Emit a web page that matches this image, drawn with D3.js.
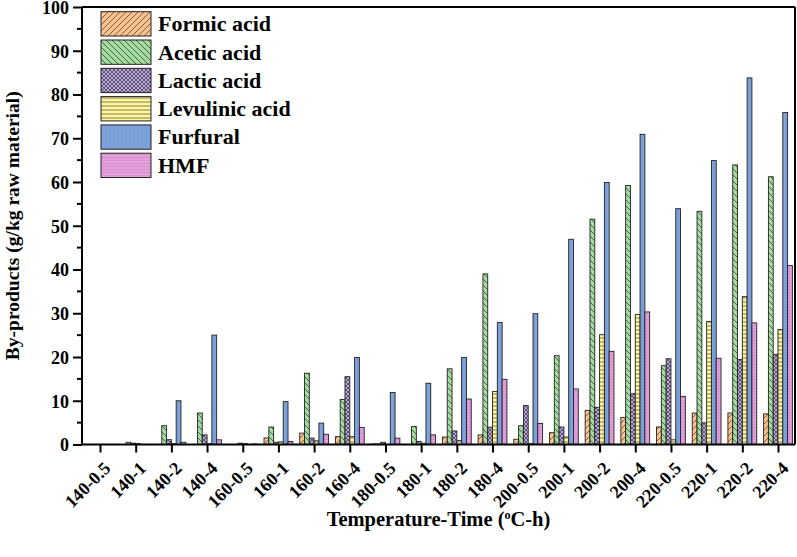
<!DOCTYPE html>
<html><head><meta charset="utf-8">
<script src="https://cdn.jsdelivr.net/npm/d3@7"></script>
<style>
html,body{margin:0;padding:0;background:#fff;}
svg text{font-family:"Liberation Serif","Times New Roman",serif;font-weight:bold;fill:#000;}
</style></head>
<body><svg id="c" width="797" height="557"></svg>
<script>
const categories = ["140-0.5","140-1","140-2","140-4","160-0.5","160-1","160-2","160-4","180-0.5","180-1","180-2","180-4","200-0.5","200-1","200-2","200-4","220-0.5","220-1","220-2","220-4"];
const formic    = [0, 0, 0, 0, 0, 1.5, 2.6, 1.8, 0.1, 0, 1.7, 2.2, 1.2, 2.7, 7.8, 6.2, 4.0, 7.2, 7.2, 7.0];
const acetic    = [0, 0.5, 4.3, 7.2, 0, 4.0, 16.3, 10.3, 0.1, 4.1, 17.3, 39.0, 4.3, 20.3, 51.5, 59.2, 18.0, 53.3, 63.9, 61.2];
const lactic    = [0, 0.3, 1.1, 2.2, 0.3, 0.5, 1.45, 15.5, 0.5, 0.7, 3.1, 3.95, 8.9, 4.0, 8.5, 11.6, 19.6, 4.95, 19.4, 20.6];
const levulinic = [0, 0.2, 0.2, 0.2, 0.2, 0.6, 0.84, 1.8, 0, 0.3, 0.9, 12.1, 0.2, 1.7, 25.1, 29.7, 1.07, 28.1, 33.8, 26.3];
const furfural  = [0, 0, 10, 25, 0, 9.8, 4.9, 19.9, 11.9, 14, 19.9, 27.9, 29.9, 46.9, 59.9, 70.9, 53.9, 64.9, 83.8, 75.9];
const hmf       = [0, 0, 0.5, 1.07, 0.1, 0.7, 2.35, 3.9, 1.45, 2.2, 10.4, 14.9, 4.8, 12.7, 21.3, 30.3, 11.0, 19.7, 27.8, 40.9];
const seriesNames = ["Formic acid","Acetic acid","Lactic acid","Levulinic acid","Furfural","HMF"];
const seriesValues = [formic, acetic, lactic, levulinic, furfural, hmf];
const yTicks = [0,10,20,30,40,50,60,70,80,90,100];

const svg = d3.select("#c");
const L = 82, R = 795, T = 7, B = 444.5;

// patterns
const defs = svg.append("defs");
const pats = [
  {id:"p0", fill:"#F9C18E", draw:g=>{g.append("path").attr("d","M0,6 L6,0 M-1,1 L1,-1 M5,7 L7,5").attr("stroke","#5a4a3a").attr("stroke-width",0.8);}, size:6},
  {id:"p1", fill:"#A5DBA1", draw:g=>{g.append("path").attr("d","M0,0 L6,6 M-1,5 L1,7 M5,-1 L7,1").attr("stroke","#2f4a30").attr("stroke-width",0.8);}, size:6},
  {id:"p2", fill:"#BBA8D6", draw:g=>{g.append("path").attr("d","M0,0 L4,4 M4,0 L0,4").attr("stroke","#3a3050").attr("stroke-width",0.7);}, size:4},
  {id:"p3", fill:"#FFF59B", draw:g=>{g.append("path").attr("d","M0,2 L4,2").attr("stroke","#4a4a30").attr("stroke-width",0.7);}, size:4},
  {id:"p4", fill:"#7FA3DC", draw:g=>{g.append("path").attr("d","M2,0 L2,4").attr("stroke","#6a8cc4").attr("stroke-width",0.5);}, size:4},
  {id:"p5", fill:"#E49FDD", draw:g=>{g.append("path").attr("d","M0,1.5 L3,1.5").attr("stroke","#c680bf").attr("stroke-width",0.5);}, size:3}
];
pats.forEach(p=>{
  const pt = defs.append("pattern").attr("id",p.id).attr("patternUnits","userSpaceOnUse")
    .attr("width",p.size).attr("height",p.size);
  pt.append("rect").attr("width",p.size).attr("height",p.size).attr("fill",p.fill);
  p.draw(pt);
});

const x = d3.scalePoint().domain(categories).range([100, 778]);
const xs = d3.scaleBand().domain(d3.range(6)).range([-14.4, 14.4]);
const y = d3.scaleLinear().domain([0,100]).range([B, T]);

// bars
seriesValues.forEach((vals, si)=>{
  svg.append("g").selectAll("rect").data(vals).join("rect")
    .attr("x",(d,i)=>x(categories[i]) + xs(si))
    .attr("width", xs.bandwidth())
    .attr("y", d=>y(d))
    .attr("height", d=>B - y(d))
    .attr("fill", `url(#p${si})`)
    .attr("stroke","#222").attr("stroke-width",0.9);
});

// frame top/right
svg.append("line").attr("x1",L).attr("x2",R).attr("y1",T).attr("y2",T).attr("stroke","#000").attr("stroke-width",2);
svg.append("line").attr("x1",R).attr("x2",R).attr("y1",T).attr("y2",B).attr("stroke","#000").attr("stroke-width",2);

// y axis
const yAx = svg.append("g").attr("transform",`translate(${L},0)`)
  .call(d3.axisLeft(y).tickValues(yTicks).tickSize(9).tickPadding(4).tickFormat(d3.format("d")));
yAx.select(".domain").attr("stroke-width",2).attr("d",`M0,${T}V${B}`);
yAx.selectAll(".tick line").attr("stroke-width",2);
yAx.selectAll(".tick text").style("font-size","18px").style("font-family","Liberation Serif").style("font-weight","bold")
  .attr("dy","0.36em");
// minor ticks
svg.append("g").selectAll("line").data(d3.range(5,100,10)).join("line")
  .attr("x1",L-5).attr("x2",L).attr("y1",d=>y(d)).attr("y2",d=>y(d)).attr("stroke","#000").attr("stroke-width",2);

// x axis
const xAx = svg.append("g").attr("transform",`translate(0,${B})`)
  .call(d3.axisBottom(x).tickSize(8).tickPadding(6));
xAx.select(".domain").attr("stroke-width",2).attr("d",`M${L},0H${R}`);
xAx.selectAll(".tick line").attr("stroke-width",2);
xAx.selectAll(".tick text")
  .style("font-size","18px").style("font-family","Liberation Serif").style("font-weight","bold")
  .attr("text-anchor","end").attr("y",0).attr("dy",0)
  .attr("transform","translate(11,25) rotate(-45)");

// axis titles
svg.append("text").attr("x",(L+R)/2).attr("y",526).attr("text-anchor","middle").style("font-size","20.5px")
  .html('Temperature-Time (<tspan dy="-7" font-size="12px">o</tspan><tspan dy="7">C-h)</tspan>');
svg.append("text").attr("transform",`translate(19,${(T+B)/2}) rotate(-90)`).attr("text-anchor","middle")
  .style("font-size","19.5px").text("By-products (g/kg raw material)");

// legend
const lg = svg.append("g");
seriesNames.forEach((n,i)=>{
  const yy = 11.7 + i*28.3;
  lg.append("rect").attr("x",101).attr("y",yy).attr("width",50).attr("height",24.3)
    .attr("fill",`url(#p${i})`).attr("stroke","#222").attr("stroke-width",1);
  lg.append("text").attr("x",158).attr("y",yy+19.5).style("font-size","22px").text(n);
});
</script></body></html>
